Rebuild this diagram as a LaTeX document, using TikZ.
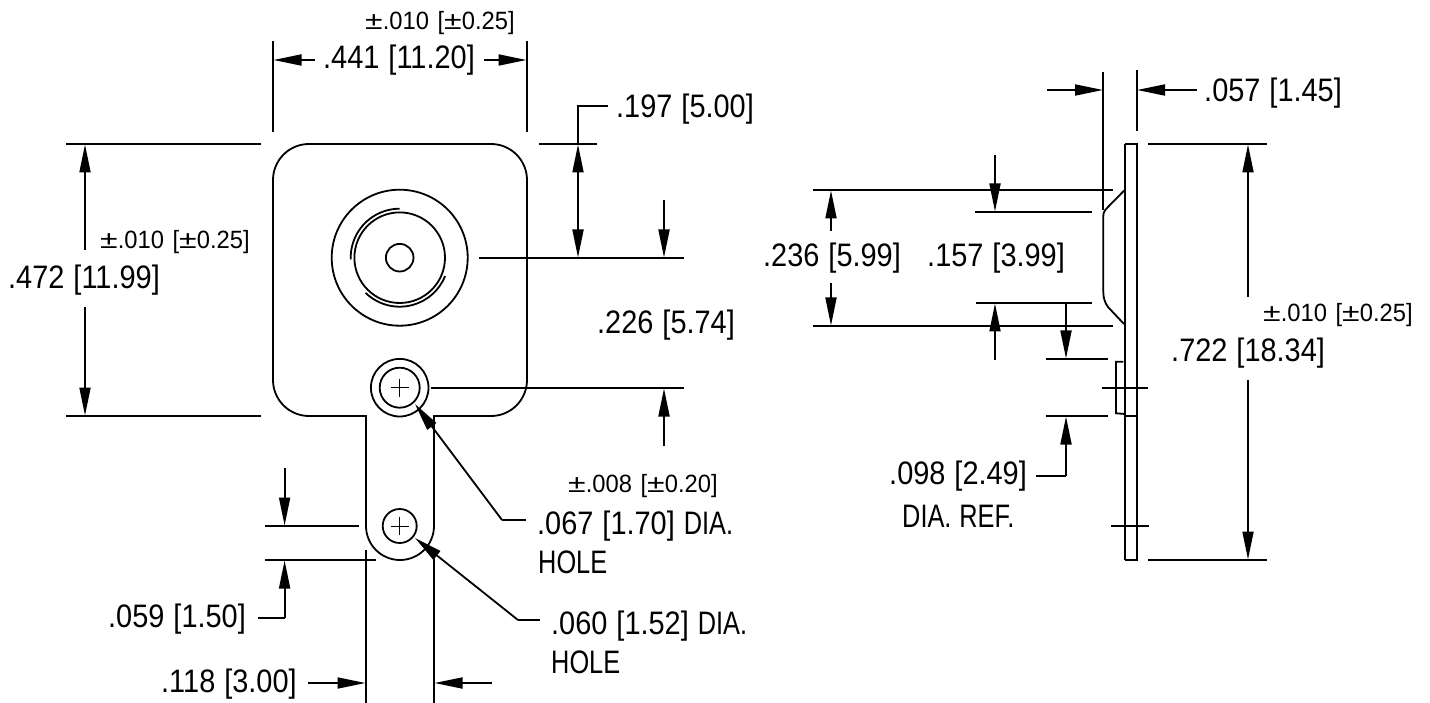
\documentclass[tikz,border=0pt]{standalone}
\usepackage{fontspec}
\setmainfont[FakeStretch=0.89,WordSpace=1.12]{Liberation Sans}
\newfontfamily\tolfont[FakeStretch=0.95,WordSpace=1.3]{Liberation Sans}
\newfontfamily\capfont[FakeStretch=0.78,WordSpace=1.12]{Liberation Sans}
\newcommand{\plusminus}{\scalebox{1.35}[1]{±}}
\usetikzlibrary{arrows.meta}
\tikzset{
  x=1pt,y=-1pt,
  ln/.style={line width=1.8pt,black},
  thin line/.style={line width=0.9pt,black},
  thick line/.style={line width=2.6pt,black},
  arr/.style={ln,-{Triangle[length=28pt,width=11pt]}},
  big/.style={anchor=base west,inner sep=0pt,font=\fontsize{32.5}{32.5}\selectfont},
  small/.style={anchor=base west,inner sep=0pt,font=\fontsize{25}{25}\selectfont\tolfont},
}
\begin{document}
\begin{tikzpicture}
\useasboundingbox (0,0) rectangle (1430,703);
% plate (front view)
\draw[ln] (366,526) arc[start angle=180,end angle=360,radius=34pt] -- (434,416) -- (491,416)
  arc[start angle=270,end angle=360,radius=36pt] -- (527,180) arc[start angle=0,end angle=90,radius=36pt]
  -- (309,144) arc[start angle=90,end angle=180,radius=36pt] -- (273,380) arc[start angle=180,end angle=270,radius=36pt] -- (366,416) -- cycle;
% front circles
\coordinate (cA) at (399.7,257.7);
\coordinate (cB) at (399.7,387.7);
\coordinate (cC) at (399.7,526);
\draw[ln] (cA) circle[radius=68pt] (cA) circle[radius=45.3pt] (cA) circle[radius=13.8pt];
\draw[ln] (cA) ++(90:49pt) arc[start angle=90,end angle=182,radius=49pt];
\draw[ln] (cA) ++(226:49pt) arc[start angle=226,end angle=338,radius=49pt];
\fill[white] (cB) circle[radius=28.8pt];
\draw[ln] (cB) circle[radius=28.8pt] (cB) circle[radius=20pt] (cC) circle[radius=17pt];
\draw[thin line] (390.7,387.7) -- (408.7,387.7) (399.7,378.7) -- (399.7,396.7);
\draw[thin line] (390.7,526) -- (408.7,526) (399.7,517) -- (399.7,535);
% .441
\draw[ln] (273,41) -- (273,132) (527,41) -- (527,132);
\draw[arr] (315,60) -- (273.5,60);
\draw[arr] (484,60) -- (526.5,60);
\node[big] (t441) at (323,69) {.441 [11.20]};
\node[small] (t441tol) at (365,30) {\plusminus.010 [\plusminus0.25]};
% .472
\draw[ln] (66,144) -- (261,144) (66,416) -- (261,416);
\draw[arr] (85,250) -- (85,144.5);
\draw[arr] (85,307) -- (85,415.5);
\node[big] (t472) at (8,289) {.472 [11.99]};
\node[small] (t472tol) at (100,249) {\plusminus.010 [\plusminus0.25]};
% .197
\draw[ln] (539,144) -- (597,144) (479,258) -- (684,258);
\draw[ln] (608,106) -- (578,106) -- (578,144);
\draw[arr] (578,200) -- (578,144.5);
\draw[arr] (578,200) -- (578,257.5);
\node[big] (t197) at (616,118) {.197 [5.00]};
% .226
\draw[arr] (664,200) -- (664,257.5);
\draw[ln] (431,388) -- (684,388);
\draw[arr] (664,446) -- (664,388.5);
\node[big] (t226) at (597,334) {.226 [5.74]};
\node[small] (t226tol) at (568,492) {\plusminus.008 [\plusminus0.20]};
% hole leaders
\draw[ln] (526,520) -- (502,520);
\draw[arr] (502,520) -- (415,404);
\draw[ln] (540,620) -- (518,620);
\draw[arr] (518,620) -- (415,538);
\node[big] (t067) at (537,534) {.067 [1.70] {\capfont DIA.}};
\node[big] (t067h) at (538,573) {\capfont HOLE};
\node[big] (t060) at (551,634) {.060 [1.52] {\capfont DIA.}};
\node[big] (t060h) at (551,673) {\capfont HOLE};
% .059
\draw[ln] (265,526) -- (359,526) (265,560) -- (376,560);
\draw[arr] (284.6,468) -- (284.6,525.5);
\draw[ln] (258,618) -- (284.6,618);
\draw[arr] (284.6,618) -- (284.6,560.5);
\node[big] (t059) at (108,627) {.059 [1.50]};
% .118
\draw[ln] (366,550) -- (366,703) (434,556) -- (434,703);
\draw[arr] (308,683) -- (365.5,683);
\draw[arr] (492,683) -- (434.5,683);
\node[big] (t118) at (161,692) {.118 [3.00]};
% side view
\draw[thick line] (1125,144) -- (1125,560);
\draw[ln] (1125,144) -- (1136.7,144) -- (1136.7,560) -- (1125,560);
\draw[ln] (1124,190.7) -- (1108,207) .. controls (1105,210) and (1103.3,212) .. (1103.3,216) -- (1103.3,292)
  .. controls (1103.3,298) and (1105,303) .. (1108,307) -- (1124,324);
\draw[ln] (1123.3,361.7) -- (1116,361.7) -- (1116,413.3) -- (1125,414);
\draw[ln] (1125,416) -- (1136.7,416);
\draw[ln] (1101.7,388) -- (1148,388) (1111,526) -- (1149,526);
% .057
\draw[ln] (1103.3,72) -- (1103.3,210) (1136.7,70) -- (1136.7,131);
\draw[arr] (1047,90) -- (1103,90);
\draw[arr] (1197,90) -- (1137,90);
\node[big] (t057) at (1204,102) {.057 [1.45]};
% .722
\draw[ln] (1148,144) -- (1267,144) (1148,560) -- (1267,560);
\draw[arr] (1248,297) -- (1248,144.5);
\draw[arr] (1248,380) -- (1248,559.5);
\node[big] (t722) at (1171,362) {.722 [18.34]};
\node[small] (t722tol) at (1263,322) {\plusminus.010 [\plusminus0.25]};
% .236
\draw[ln] (813,190) -- (1113,190) (813,326) -- (1113,326);
\draw[arr] (831,231) -- (831,190.5);
\draw[arr] (831,283) -- (831,325.5);
\node[big] (t236) at (763,267) {.236 [5.99]};
% .157
\draw[ln] (975,212) -- (1092,212) (976,303) -- (1092,303);
\draw[arr] (995,155) -- (995,211.5);
\draw[arr] (995,360) -- (995,303.5);
\node[big] (t157) at (927,267) {.157 [3.99]};
% .098
\draw[ln] (1046,359) -- (1108,359) (1046,416) -- (1108,416);
\draw[arr] (1066,302) -- (1066,358.5);
\draw[ln] (1036,476) -- (1066,476);
\draw[arr] (1066,476) -- (1066,416.5);
\node[big] (t098) at (889,484) {.098 [2.49]};
\node[big] (t098d) at (902,527) {\capfont DIA. REF.};
\end{tikzpicture}
\end{document}
